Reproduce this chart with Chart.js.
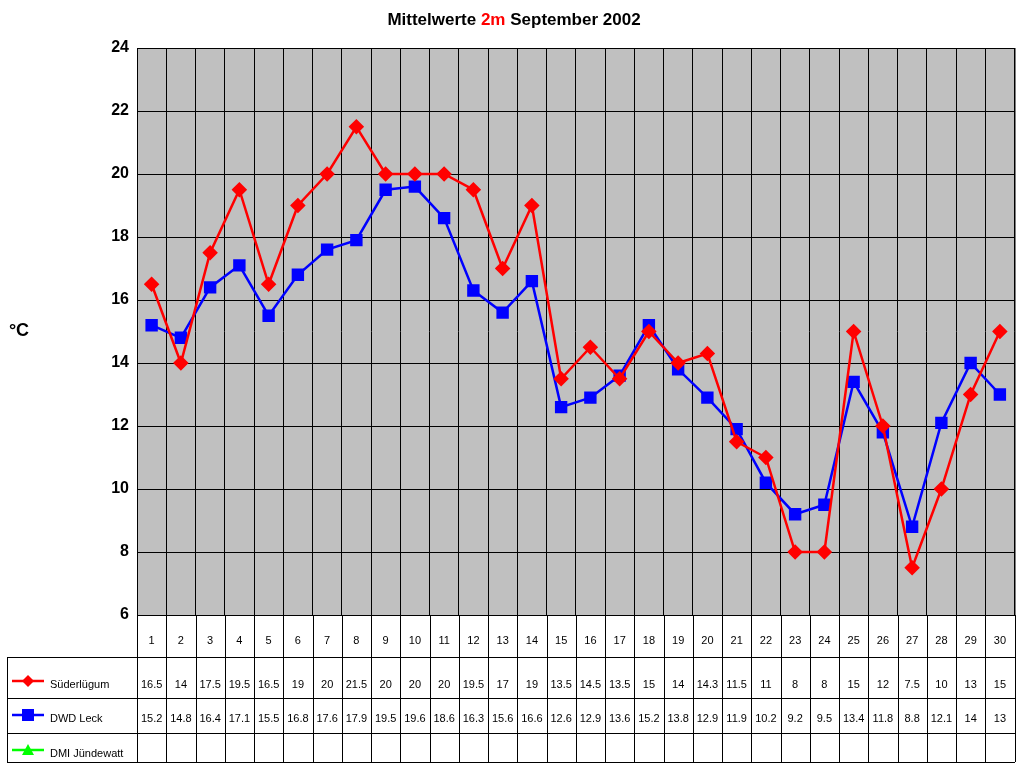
<!DOCTYPE html>
<html>
<head>
<meta charset="utf-8">
<script src="https://cdn.jsdelivr.net/npm/chart.js@4"></script>
<style>
  body { margin: 0; background: #fff; }
  #wrap { width: 1024px; height: 768px; }
</style>
</head>
<body>
<div id="wrap"><canvas id="c" width="1024" height="768"></canvas></div>
<script>
const tage = ["1","2","3","4","5","6","7","8","9","10","11","12","13","14","15","16","17","18","19","20","21","22","23","24","25","26","27","28","29","30"];
const suederluegum = [16.5,14,17.5,19.5,16.5,19,20,21.5,20,20,20,19.5,17,19,13.5,14.5,13.5,15,14,14.3,11.5,11,8,8,15,12,7.5,10,13,15];
const dwdLeck = [15.2,14.8,16.4,17.1,15.5,16.8,17.6,17.9,19.5,19.6,18.6,16.3,15.6,16.6,12.6,12.9,13.6,15.2,13.8,12.9,11.9,10.2,9.2,9.5,13.4,11.8,8.8,12.1,14,13];
const dmiJuendewatt = [];

const FONT = "'Liberation Sans', Arial, sans-serif";
const ROWS = [615, 657, 698, 733, 762];

const tabelle = {
    id: "tabelle",
    beforeDraw(chart) {
        const a = chart.chartArea, c = chart.ctx;
        c.save();
        c.fillStyle = "#c0c0c0";
        c.fillRect(a.left, a.top, a.right - a.left, a.bottom - a.top);
        // title
        c.font = "bold 17px " + FONT;
        c.textBaseline = "middle";
        const parts = [["Mittelwerte ", "#000"], ["2m", "#ff0000"], [" September 2002", "#000"]];
        let w = parts.reduce((s, p) => s + c.measureText(p[0]).width, 0);
        let x = 514 - w / 2;
        parts.forEach(p => { c.fillStyle = p[1]; c.textAlign = "left"; c.fillText(p[0], x, 20); x += c.measureText(p[0]).width; });
        // y title
        c.fillStyle = "#000";
        c.font = "bold 18px " + FONT;
        c.textAlign = "center";
        c.fillText("°C", 19, 331);
        c.restore();
    },
    afterDraw(chart) {
        const a = chart.chartArea, c = chart.ctx, xs = chart.scales.x;
        const step = (a.right - a.left) / tage.length;
        c.save();
        c.strokeStyle = "#000";
        c.lineWidth = 1;
        c.strokeRect(a.left + 0.5, a.top + 0.5, a.right - a.left, a.bottom - a.top);
        c.beginPath();
        for (let i = 0; i <= tage.length; i++) {
            const px = Math.round(a.left + i * step) + 0.5;
            c.moveTo(px, ROWS[0]); c.lineTo(px, ROWS[4]);
        }
        for (let r = 1; r < ROWS.length; r++) {
            c.moveTo(7, ROWS[r] + 0.5); c.lineTo(a.right + 0.5, ROWS[r] + 0.5);
        }
        c.moveTo(7.5, ROWS[1]); c.lineTo(7.5, ROWS[4]);
        c.stroke();

        c.fillStyle = "#000";
        c.font = "11px " + FONT;
        c.textAlign = "center";
        c.textBaseline = "middle";
        const reihen = [suederluegum, dwdLeck, dmiJuendewatt];
        tage.forEach((t, i) => {
            const px = xs.getPixelForValue(i);
            c.fillText(t, px, 641);
            reihen.forEach((r, k) => { if (r[i] !== undefined) c.fillText(String(r[i]), px, [685, 719, 754][k]); });
        });
        // legend
        const leg = [["Süderlügum", "#ff0000", "diamond"], ["DWD Leck", "#0000ff", "square"], ["DMI Jündewatt", "#00ff00", "triangle"]];
        leg.forEach((l, k) => {
            const y = [681, 715, 750][k];
            c.strokeStyle = l[1]; c.fillStyle = l[1]; c.lineWidth = 2.5;
            c.beginPath(); c.moveTo(12, y); c.lineTo(44, y); c.stroke();
            c.beginPath();
            if (l[2] === "diamond") { c.moveTo(28, y - 6); c.lineTo(34, y); c.lineTo(28, y + 6); c.lineTo(22, y); }
            else if (l[2] === "square") { c.rect(22, y - 6, 12, 12); }
            else { c.moveTo(28, y - 6); c.lineTo(34, y + 5); c.lineTo(22, y + 5); }
            c.fill();
            c.fillStyle = "#000";
            c.textAlign = "left";
            c.fillText(l[0], 50, y + 4);
        });
        c.restore();
    }
};

new Chart(document.getElementById("c"), {
    type: "line",
    data: {
        labels: tage,
        datasets: [
            { label: "Süderlügum", data: suederluegum, borderColor: "#ff0000", backgroundColor: "#ff0000",
              borderWidth: 2.5, pointStyle: "rectRot", pointRadius: 6, pointHoverRadius: 6, tension: 0 },
            { label: "DWD Leck", data: dwdLeck, borderColor: "#0000ff", backgroundColor: "#0000ff",
              borderWidth: 2.5, pointStyle: "rect", pointRadius: 7, pointHoverRadius: 7, tension: 0 },
            { label: "DMI Jündewatt", data: dmiJuendewatt, borderColor: "#00ff00", backgroundColor: "#00ff00",
              pointStyle: "triangle" }
        ]
    },
    options: {
        responsive: false,
        animation: false,
        layout: { padding: { left: 0, top: 48, right: 5, bottom: 153 } },
        plugins: { legend: { display: false }, tooltip: { enabled: false } },
        scales: {
            x: {
                display: true,
                offset: true,
                grid: { offset: true, color: "#000", drawTicks: false },
                border: { display: false },
                ticks: { display: false }
            },
            y: {
                min: 6, max: 24,
                ticks: { stepSize: 2, color: "#000", font: { family: FONT, size: 16, weight: "bold" }, padding: 8 },
                grid: { color: "#000", drawTicks: false },
                border: { display: false },
                afterFit: s => { s.width = 137; }
            }
        }
    },
    plugins: [tabelle]
});
</script>
</body>
</html>
